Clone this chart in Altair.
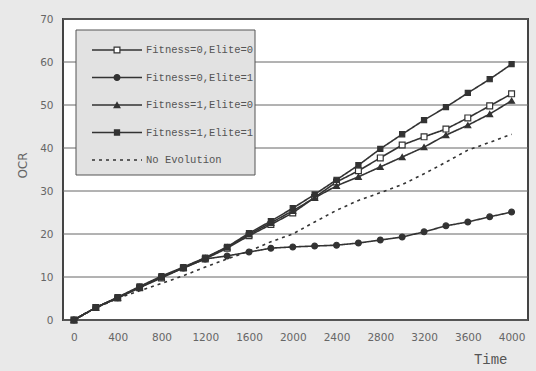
import altair as alt
import pandas as pd

times = [0, 200, 400, 600, 800, 1000, 1200, 1400, 1600, 1800, 2000,
         2200, 2400, 2600, 2800, 3000, 3200, 3400, 3600, 3800, 4000]

f0e0 = [0, 2.9, 5.1, 7.5, 9.8, 12.1, 14.2, 16.7, 19.6, 22.2, 24.9,
        28.5, 32.1, 34.7, 37.7, 40.7, 42.6, 44.4, 47.0, 49.8, 52.6]
f0e1 = [0, 2.9, 5.2, 7.6, 10.0, 12.1, 14.2, 14.9, 15.8, 16.7, 17.0,
        17.2, 17.4, 17.9, 18.6, 19.3, 20.5, 21.9, 22.8, 24.0, 25.1]
f1e0 = [0, 2.9, 5.2, 7.6, 10.0, 12.2, 14.4, 16.9, 19.9, 22.6, 25.4,
        28.4, 31.2, 33.3, 35.6, 37.9, 40.2, 43.0, 45.3, 47.9, 51.0]
f1e1 = [0, 2.9, 5.3, 7.8, 10.2, 12.3, 14.5, 17.0, 20.2, 23.0, 26.0,
        29.2, 32.6, 36.0, 39.8, 43.2, 46.5, 49.5, 52.8, 56.0, 59.5]
noevo = [0, 2.8, 5.0, 6.8, 8.5, 10.3, 12.3, 14.2, 16.0, 18.2, 20.0,
         22.8, 25.5, 27.8, 29.6, 31.5, 34.0, 36.7, 39.5, 41.3, 43.2]

names = ["Fitness=0,Elite=0", "Fitness=0,Elite=1", "Fitness=1,Elite=0",
         "Fitness=1,Elite=1", "No Evolution"]
series = [f0e0, f0e1, f1e0, f1e1, noevo]

x_ticks = [0, 400, 800, 1200, 1600, 2000, 2400, 2800, 3200, 3600, 4000]
y_ticks = [0, 10, 20, 30, 40, 50, 60, 70]

rows = []
for n, vals in zip(names, series):
    for t, v in zip(times, vals):
        rows.append({"series": n, "Time": t, "OCR": v})
df = pd.DataFrame(rows)
legend_df = pd.DataFrame({"series": names})
grid_df = pd.DataFrame({"OCR": y_ticks})

DARK = "#333333"

xscale = alt.Scale(domain=[-100, 4150], nice=False, zero=False)
yscale = alt.Scale(domain=[0, 70], nice=False)
dash_scale = alt.Scale(domain=names, range=[[1, 0], [1, 0], [1, 0], [1, 0], [3, 4]])

xaxis = alt.Axis(values=x_ticks, format="d", grid=False, ticks=False, domain=False,
                 labelFont="DejaVu Sans", labelFontSize=10.5, labelColor="#666",
                 labelPadding=12, title="Time", titleFont="Liberation Mono",
                 titleFontSize=14, titleFontWeight="normal", titleColor="#555",
                 titleX=444, titleY=39, titleAlign="right",
                 titleBaseline="middle")
yaxis = alt.Axis(values=y_ticks, grid=False,
                 ticks=False, domain=False, labelFont="DejaVu Sans",
                 labelFontSize=10.5, labelColor="#666", labelPadding=10,
                 title="OCR", titleFont="DejaVu Sans", titleFontSize=12,
                 titleFontWeight="normal", titleColor="#666", titleX=-41,
                 titleY=146, titleAngle=-90, titleBaseline="middle")

# horizontal grid lines drawn as a layer beneath everything
grid = alt.Chart(grid_df).mark_rule(color="#666", strokeWidth=1).encode(
    y=alt.Y("OCR:Q", scale=yscale, axis=yaxis),
)

lines = alt.Chart(df).mark_line(strokeWidth=1.6, color=DARK).encode(
    x=alt.X("Time:Q", scale=xscale, axis=xaxis),
    y=alt.Y("OCR:Q", scale=yscale, axis=yaxis),
    detail="series:N",
    strokeDash=alt.StrokeDash("series:N", scale=dash_scale, legend=None),
)

marker_styles = [("square", "white", 34), ("circle", DARK, 34),
                 ("triangle-up", DARK, 34), ("square", DARK, 26)]
pt_layers = []
for n, (shp, fil, sz) in zip(names[:4], marker_styles):
    pt_layers.append(
        alt.Chart(df).transform_filter(alt.datum.series == n).mark_point(
            shape=shp, fill=fil, filled=True, stroke=DARK, strokeWidth=1.2,
            size=sz, opacity=1
        ).encode(
            x=alt.X("Time:Q", scale=xscale, axis=xaxis),
            y=alt.Y("OCR:Q", scale=yscale, axis=yaxis),
        )
    )

data_group = alt.layer(grid, lines, *pt_layers)

# ---- legend (box + line samples + markers + labels) ----
ly = alt.Y("series:N", scale=alt.Scale(type="point", domain=names,
                                        range=[31, 141], padding=0), axis=None)

leg_box = alt.Chart(legend_df).transform_filter(
    alt.datum.series == names[0]
).mark_rect(fill="#e2e2e2", stroke="#555", strokeWidth=1, opacity=1,
            fillOpacity=1).encode(
    x=alt.value(13), x2=alt.value(192), y=alt.value(11), y2=alt.value(156)
)
leg_lines = alt.Chart(legend_df).mark_rule(strokeWidth=1.6, color=DARK).encode(
    x=alt.value(29), x2=alt.value(79), y=ly,
    strokeDash=alt.StrokeDash("series:N", scale=dash_scale, legend=None),
)
leg_pts = []
for n, (shp, fil, sz) in zip(names[:4], marker_styles):
    leg_pts.append(
        alt.Chart(legend_df).transform_filter(alt.datum.series == n).mark_point(
            shape=shp, fill=fil, filled=True, stroke=DARK, strokeWidth=1.2,
            size=sz, opacity=1
        ).encode(x=alt.value(54), y=ly)
    )
leg_text = alt.Chart(legend_df).mark_text(
    align="left", baseline="middle", font="Liberation Mono", fontSize=10.5,
    color="#555"
).encode(x=alt.value(83), y=ly, text="series:N")

legend_group = alt.layer(leg_box, leg_lines, *leg_pts, leg_text)

chart = alt.layer(data_group, legend_group).resolve_scale(
    y="independent"
).properties(
    width=465, height=301,
    autosize=alt.AutoSizeParams(type="none"),
    padding={"left": 63, "top": 19, "right": 8, "bottom": 51},
    background="#e9e9e9",
).configure_view(
    stroke="#444", strokeWidth=2, fill="white"
)

chart.save("out.html", embed_options={"renderer": "svg", "actions": False})
